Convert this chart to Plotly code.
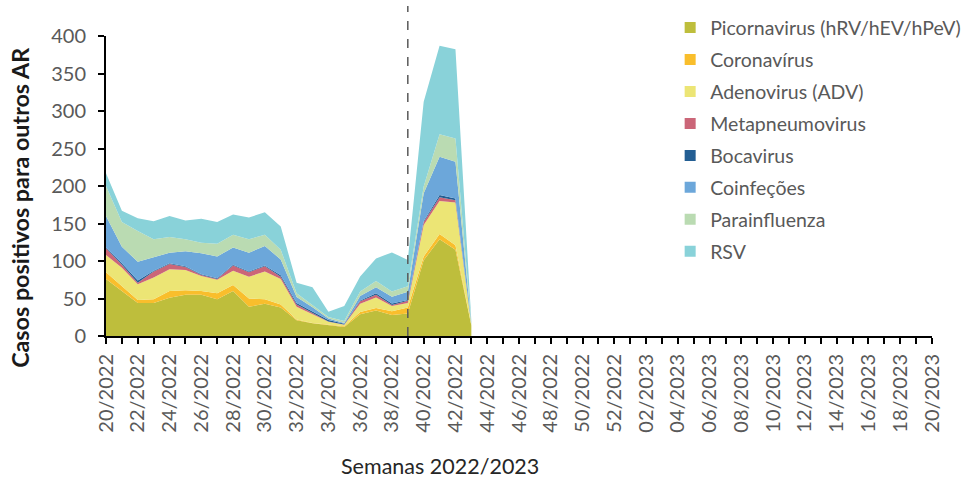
import plotly.graph_objects as go

# ---- data ----
weeks = [f"{w}/2022" for w in range(20, 53)] + [f"{w:02d}/2023" for w in range(1, 21)]
data_weeks = weeks[:24]  # 20/2022 .. 43/2022

picornavirus = [76, 60, 44, 44, 51, 55, 55, 49, 60, 39, 43, 38, 21, 17, 14, 12, 29, 34, 28, 30, 101, 129, 115, 14]
coronavirus = [9, 7, 4, 5, 9, 6, 5, 8, 8, 11, 6, 4, 1, 0.5, 1, 1, 3, 3.5, 5, 8, 5, 7, 6, 0]
adenovirus = [23, 24, 21, 29, 29, 27, 20, 18, 19, 29, 37, 34, 17, 12, 4, 2, 11, 14, 7, 6, 42, 44, 57, 1]
metapneumovirus = [9, 4, 2, 8, 7, 4, 1.5, 1, 7, 6, 7, 3, 3, 1, 0.5, 0.5, 3.5, 3.5, 1.5, 3, 4, 5, 3, 0]
bocavirus = [1, 2, 3, 1, 1, 1, 1, 1, 1, 1, 1, 2, 2, 2, 2, 1, 1, 2, 2, 1, 1.5, 3, 2.5, 0]
coinfecoes = [42, 22, 25, 18, 14, 20, 28, 29, 23, 25, 26, 21, 8, 6, 2, 1, 6, 8, 9, 11, 37, 51, 49, 1]
parainfluenza = [40, 33, 41, 24, 21, 16, 14, 17, 17, 18, 15, 13, 5, 2.5, 2, 2.5, 6, 8.5, 7, 7.5, 9, 30, 31, 1]
rsv = [17, 15, 17, 24, 28, 25, 32, 29, 27, 29, 30, 31, 14, 24, 7, 20, 20, 30, 52, 35, 113, 118, 119, 3]

series_names = ["Picornavirus (hRV/hEV/hPeV)", "Coronavírus", "Adenovirus (ADV)", "Metapneumovirus",
                "Bocavirus", "Coinfeções", "Parainfluenza", "RSV"]
series_values = [picornavirus, coronavirus, adenovirus, metapneumovirus, bocavirus, coinfecoes, parainfluenza, rsv]
colors = ["#BEBE3C", "#F9BE2C", "#ECE575", "#CB6678", "#235E93", "#6CA7DA", "#BADBB2", "#89D2D9"]

cutoff_week = "39/2022"
tick_labels = [w if i % 2 == 0 else "" for i, w in enumerate(weeks)]

fig = go.Figure()
for name, vals, col in zip(series_names, series_values, colors):
    fig.add_trace(go.Scatter(
        x=data_weeks, y=vals, name=name, stackgroup="one", mode="lines",
        line=dict(width=0, color=col), fillcolor=col, showlegend=False,
        hoverinfo="x+y+name",
    ))
# legend entries with square swatches
for i, (name, col) in enumerate(zip(series_names, colors)):
    fig.add_trace(go.Scatter(
        x=[None], y=[None], name=name, mode="markers",
        marker=dict(symbol="square", size=11, color=col),
        legendgroup=f"g{i}", showlegend=True,
    ))

fig.add_shape(type="line", xref="x", yref="paper", x0=cutoff_week, x1=cutoff_week,
              y0=0, y1=1.1, line=dict(color="#595959", width=1.5, dash="dash"))

font_family = "Lato, 'Open Sans', sans-serif"
fig.update_layout(
    width=965, height=478,
    margin=dict(l=106, r=33, t=36, b=142, autoexpand=False),
    plot_bgcolor="white", paper_bgcolor="white",
    font=dict(family=font_family, color="#595959", size=20),
    showlegend=True,
    legend=dict(x=0.683, y=1.092, xanchor="left", yanchor="top", traceorder="grouped",
                font=dict(size=19.5, color="#595959"), tracegroupgap=3.6,
                bgcolor="rgba(0,0,0,0)", itemwidth=30, maxheight=1.0),
    xaxis=dict(
        type="category", categoryorder="array", categoryarray=weeks,
        range=[0, len(weeks) - 1], automargin=False,
        tickmode="array", tickvals=weeks, ticktext=tick_labels,
        tickangle=-90, ticks="outside", ticklen=6, tickwidth=1.5, tickcolor="black",
        showline=True, linecolor="black", linewidth=2, showgrid=False, zeroline=False,
        tickfont=dict(size=20, color="#595959"), ticklabelstandoff=2,
    ),
    yaxis=dict(
        range=[0, 400], dtick=50, tick0=0, ticks="outside", ticklen=6, tickwidth=1.5,
        tickcolor="black", showline=True, linecolor="black", linewidth=2, automargin=False,
        showgrid=False, zeroline=False, tickfont=dict(size=20, color="#595959"),
        ticklabelstandoff=8,
    ),
    annotations=[
        dict(text="Casos positivos para outros AR", xref="paper", yref="paper",
             x=-0.105, y=0.428, textangle=-90, showarrow=False,
             font=dict(size=23.3, color="#1a1a1a", weight="bold"),
             xanchor="center", yanchor="middle"),
        dict(text="Semanas 2022/2023", xref="paper", yref="paper",
             x=0.404, y=-0.433, showarrow=False,
             font=dict(size=21.5, color="#262626"), xanchor="center", yanchor="middle"),
    ],
)

fig.write_html("out.html", config={"displayModeBar": False},
               post_script="document.body.style.margin='0';document.body.style.overflow='hidden';")
